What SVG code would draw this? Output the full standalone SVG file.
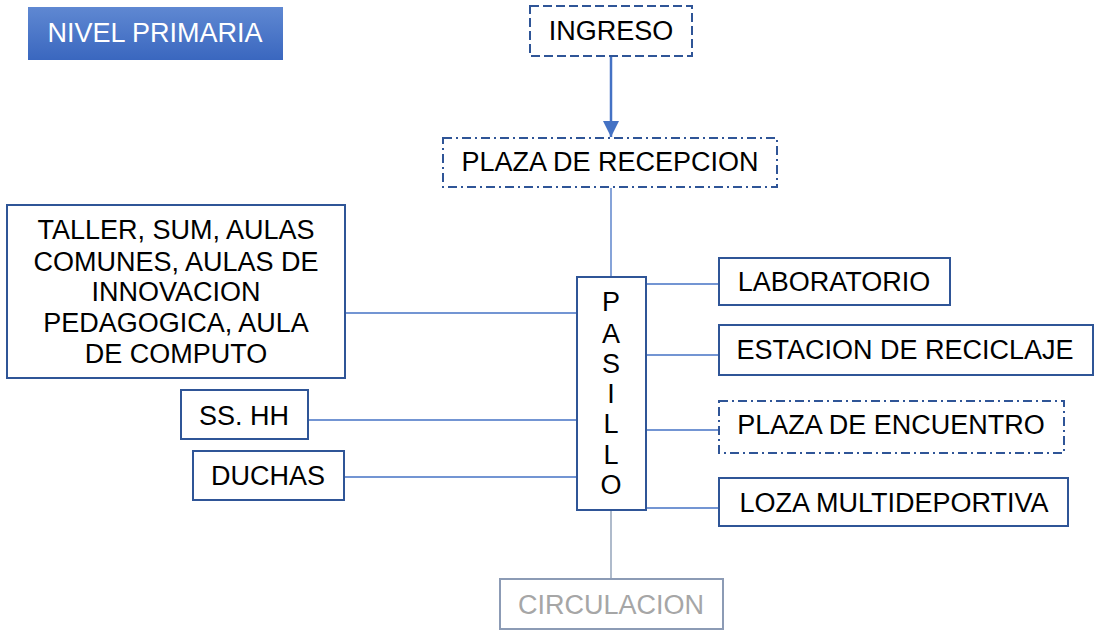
<svg xmlns="http://www.w3.org/2000/svg" width="1094" height="630" viewBox="0 0 1094 630">
<defs>
<linearGradient id="g" x1="0" y1="0" x2="0" y2="1">
<stop offset="0" stop-color="#5f88d2"/>
<stop offset="1" stop-color="#3a67bf"/>
</linearGradient>
<marker id="ah2" markerWidth="16" markerHeight="16" refX="16" refY="8" orient="auto" markerUnits="userSpaceOnUse" viewBox="0 0 16 16">
<path d="M0,0 L16,8 L0,16 Z" fill="#4472c4"/>
</marker>
</defs>
<style>
text{font-family:"Liberation Sans",Arial,sans-serif;font-size:27px;fill:#000;text-anchor:middle;dominant-baseline:central}
.box{fill:#fff;stroke:#2f5597;stroke-width:2}
.dash{stroke-dasharray:9 4}
.dd{stroke-dasharray:9 4 2 4}
.con{stroke:#4472c4;stroke-width:1.3;fill:none}
</style>
<g id="nivel">
<rect x="28" y="7" width="255" height="53" fill="url(#g)"/>
<text x="155" y="33" style="fill:#fff">NIVEL PRIMARIA</text>
</g>
<g id="connectors">
<line class="con" x1="611" y1="57" x2="611" y2="137" style="stroke-width:2.5" marker-end="url(#ah2)"/>
<line class="con" x1="611" y1="188" x2="611" y2="277"/>
<line class="con" x1="646" y1="284" x2="719" y2="284"/>
<line class="con" x1="646" y1="355" x2="719" y2="355"/>
<line class="con" x1="646" y1="430" x2="719" y2="430"/>
<line class="con" x1="646" y1="508" x2="719" y2="508"/>
<line class="con" x1="345" y1="313" x2="577" y2="313"/>
<line class="con" x1="307" y1="420" x2="577" y2="420"/>
<line class="con" x1="344" y1="477" x2="577" y2="477"/>
<line class="con" x1="611" y1="510" x2="611" y2="579" style="stroke:#8497b0"/>
</g>
<g id="ingreso">
<rect class="box dash" x="530" y="6" width="162" height="50"/>
<text x="611" y="31">INGRESO</text>
</g>
<g id="plaza-recepcion">
<rect class="box dd" x="443" y="138" width="334" height="49"/>
<text x="610" y="162">PLAZA DE RECEPCION</text>
</g>
<g id="pasillo">
<rect class="box" x="577" y="277" width="69" height="233"/>
<text x="611" y="302">P</text>
<text x="611" y="334">A</text>
<text x="611" y="364">S</text>
<text x="611" y="394">I</text>
<text x="611" y="424">L</text>
<text x="611" y="455">L</text>
<text x="611" y="485">O</text>
</g>
<g id="laboratorio">
<rect class="box" x="719" y="258" width="231" height="47"/>
<text x="834" y="282">LABORATORIO</text>
</g>
<g id="estacion">
<rect class="box" x="719" y="325" width="374" height="50"/>
<text x="905" y="350">ESTACION DE RECICLAJE</text>
</g>
<g id="plaza-encuentro">
<rect class="box dd" x="719" y="401" width="345" height="52"/>
<text x="891" y="425">PLAZA DE ENCUENTRO</text>
</g>
<g id="loza">
<rect class="box" x="719" y="478" width="349" height="48"/>
<text x="894" y="503">LOZA MULTIDEPORTIVA</text>
</g>
<g id="taller">
<rect class="box" x="7" y="205" width="338" height="173"/>
<text x="176" y="230">TALLER, SUM, AULAS</text>
<text x="176" y="262">COMUNES, AULAS DE</text>
<text x="176" y="292">INNOVACION</text>
<text x="176" y="323">PEDAGOGICA, AULA</text>
<text x="176" y="354">DE COMPUTO</text>
</g>
<g id="sshh">
<rect class="box" x="181" y="390" width="127" height="49"/>
<text x="244" y="416">SS. HH</text>
</g>
<g id="duchas">
<rect class="box" x="193" y="451" width="151" height="49"/>
<text x="268" y="476">DUCHAS</text>
</g>
<g id="circulacion">
<rect x="500" y="579" width="223" height="50" fill="#fff" stroke="#8c9bb5" stroke-width="2"/>
<text x="611" y="605" style="fill:#a6a6a6">CIRCULACION</text>
</g>
</svg>
